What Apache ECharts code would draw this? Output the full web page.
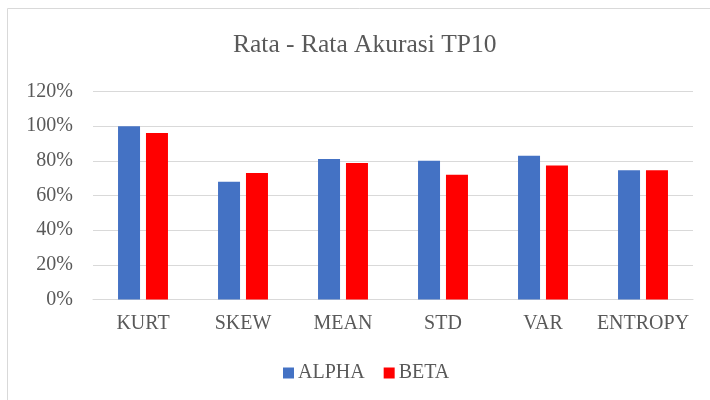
<!DOCTYPE html>
<html>
<head>
<meta charset="utf-8">
<script src="https://cdn.jsdelivr.net/npm/echarts@6/dist/echarts.min.js"></script>
<style>
html,body{margin:0;padding:0;background:#fff;}
#chart{width:710px;height:400px;}
</style>
</head>
<body>
<div id="chart"></div>
<script>
// data
var categories = ['KURT', 'SKEW', 'MEAN', 'STD', 'VAR', 'ENTROPY'];
var alphaValues = [100, 68, 81, 80, 83, 74.5];
var betaValues = [96, 73, 78.7, 72, 77.3, 74.5];
var yTicks = [0, 20, 40, 60, 80, 100, 120];

var font = 'Liberation Serif, Times New Roman, serif';
var chart = echarts.init(document.getElementById('chart'));
var option = {
    animation: false,
    graphic: [{
        type: 'rect',
        shape: {x: 7.5, y: 8.5, width: 730, height: 420},
        style: {fill: 'none', stroke: '#d9d9d9', lineWidth: 1}
    }],
    title: {
        text: 'Rata - Rata Akurasi TP10',
        left: 228,
        top: 27,
        textStyle: {fontFamily: font, fontSize: 25.5, fontWeight: 'normal', color: '#595959'}
    },
    legend: {
        bottom: 12,
        left: 278,
        itemWidth: 11,
        itemHeight: 11,
        itemGap: 19,
        icon: 'rect',
        textStyle: {fontFamily: font, fontSize: 20, color: '#595959', padding: [0, 0, 0, -1]},
        data: ['ALPHA', 'BETA']
    },
    grid: {left: 93, right: 17, top: 91.5, bottom: 100.5},
    xAxis: {
        type: 'category',
        data: categories,
        axisLine: {lineStyle: {color: '#d9d9d9', width: 1}},
        axisTick: {show: false},
        axisLabel: {fontFamily: font, fontSize: 20, color: '#595959', margin: 14, interval: 0}
    },
    yAxis: {
        type: 'value',
        min: yTicks[0],
        max: yTicks[yTicks.length - 1],
        interval: 20,
        axisLine: {show: false},
        axisTick: {show: false},
        splitLine: {lineStyle: {color: '#d9d9d9', width: 1}},
        axisLabel: {fontFamily: font, fontSize: 20, color: '#595959', margin: 20, formatter: '{value}%'}
    },
    series: [{
        name: 'ALPHA',
        type: 'bar',
        data: alphaValues,
        barWidth: 22,
        barGap: '27%',
        itemStyle: {color: '#4472c4'}
    }, {
        name: 'BETA',
        type: 'bar',
        data: betaValues,
        barWidth: 22,
        itemStyle: {color: '#ff0000'}
    }]
};
chart.setOption(option);
</script>
</body>
</html>
